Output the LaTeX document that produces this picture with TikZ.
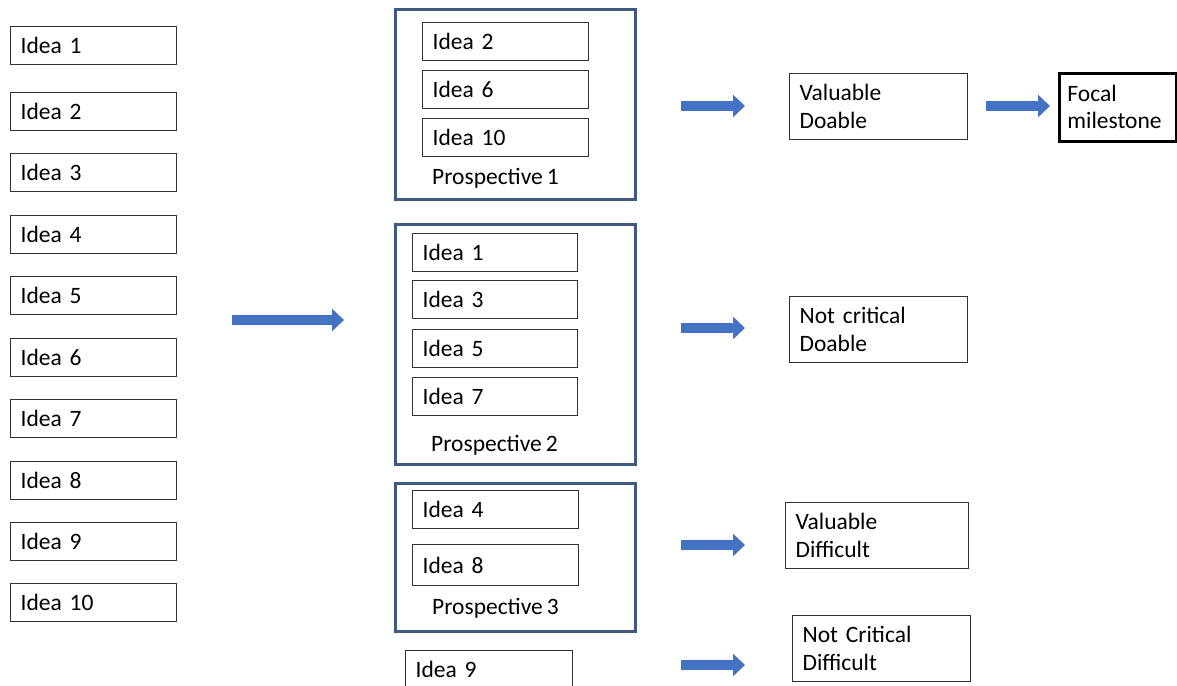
\documentclass[tikz,border=0pt]{standalone}
\usepackage{fontspec}
\setmainfont{Carlito}[WordSpace=0.75]
\usetikzlibrary{arrows.meta}
\definecolor{arrowblue}{RGB}{68,114,196}
\definecolor{framecol}{RGB}{62,88,128}
\definecolor{boxline}{RGB}{50,50,50}
\tikzset{
  ideabox/.style={draw=boxline, line width=1.2pt, anchor=north west, minimum height=38pt,
    text width=#1, inner xsep=10pt, inner ysep=0pt, align=left, font=\fontsize{23.5}{27}\selectfont},
  ideabox/.default=146pt,
  twobox/.style={draw=boxline, line width=1.2pt, anchor=north west, minimum height=66pt,
    text width=#1, inner xsep=10pt, inner ysep=0pt, align=left, font=\fontsize{23.5}{28}\selectfont},
  twobox/.default=158pt,
  framebox/.style={draw=framecol, line width=2.6pt, anchor=north west, inner sep=0pt},
  prosplabel/.style={anchor=west, inner sep=0pt, font=\fontsize{23.5}{27}\selectfont},
  blockarrow/.style={draw=arrowblue, line width=10pt, -{Triangle[length=12pt,width=22pt,fill=arrowblue]}},
}
\begin{document}
\begin{tikzpicture}[x=1pt,y=-1pt]
\useasboundingbox (0,0) rectangle (1177,685);
% left column
\node[ideabox] (i1) at (10,26) {Idea 1};
\node[ideabox] (i2) at (10,92) {Idea 2};
\node[ideabox] (i3) at (10,153) {Idea 3};
\node[ideabox] (i4) at (10,215) {Idea 4};
\node[ideabox] (i5) at (10,276) {Idea 5};
\node[ideabox] (i6) at (10,338) {Idea 6};
\node[ideabox] (i7) at (10,399) {Idea 7};
\node[ideabox] (i8) at (10,461) {Idea 8};
\node[ideabox] (i9) at (10,522) {Idea 9};
\node[ideabox] (i10) at (10,583) {Idea 10};
% prospective 1
\node[framebox, minimum width=240pt, minimum height=190pt] (p1) at (394,8) {};
\node[ideabox] (p1a) at (422,22) {Idea 2};
\node[ideabox] (p1b) at (422,70) {Idea 6};
\node[ideabox] (p1c) at (422,118) {Idea 10};
\node[prosplabel] (p1l) at (432,178) {Prospective 1};
% prospective 2
\node[framebox, minimum width=240pt, minimum height=240pt] (p2) at (394,223) {};
\node[ideabox=145pt] (p2a) at (412,233) {Idea 1};
\node[ideabox=145pt] (p2b) at (412,280) {Idea 3};
\node[ideabox=145pt] (p2c) at (412,329) {Idea 5};
\node[ideabox=145pt] (p2d) at (412,377) {Idea 7};
\node[prosplabel] (p2l) at (431,445) {Prospective 2};
% prospective 3
\node[framebox, minimum width=240pt, minimum height=148pt] (p3) at (394,482) {};
\node[ideabox] (p3a) at (412,490) {Idea 4};
\node[ideabox, minimum height=41pt] (p3b) at (412,544) {Idea 8};
\node[prosplabel] (p3l) at (432,608) {Prospective 3};
% idea 9 alone
\node[ideabox=147pt, minimum height=38pt] (solo) at (405,650) {Idea 9};
% result boxes
\node[twobox] (vd) at (789,73) {Valuable\\Doable};
\node[twobox] (nd) at (789,296) {Not critical\\Doable};
\node[twobox=163pt] (vf) at (785,502) {Valuable\\Difficult};
\node[twobox] (nf) at (792,615) {Not Critical\\Difficult};
\node[draw=black, line width=2.8pt, anchor=north west, minimum height=68pt, text width=101pt,
  inner xsep=8pt, inner ysep=0pt, align=left, font=\fontsize{23.5}{27}\selectfont] (fm) at (1058,72) {Focal\\milestone};
% arrows
\coordinate (a0s) at (232,320); \coordinate (a0e) at (344,320);
\coordinate (a1s) at (681,106); \coordinate (a1e) at (745,106);
\coordinate (a2s) at (986,106); \coordinate (a2e) at (1050,106);
\coordinate (a3s) at (681,328); \coordinate (a3e) at (745,328);
\coordinate (a4s) at (681,545); \coordinate (a4e) at (745,545);
\coordinate (a5s) at (681,665); \coordinate (a5e) at (745,665);
\draw[blockarrow] (a0s) -- (a0e);
\draw[blockarrow] (a1s) -- (a1e);
\draw[blockarrow] (a2s) -- (a2e);
\draw[blockarrow] (a3s) -- (a3e);
\draw[blockarrow] (a4s) -- (a4e);
\draw[blockarrow] (a5s) -- (a5e);
\end{tikzpicture}
\end{document}
